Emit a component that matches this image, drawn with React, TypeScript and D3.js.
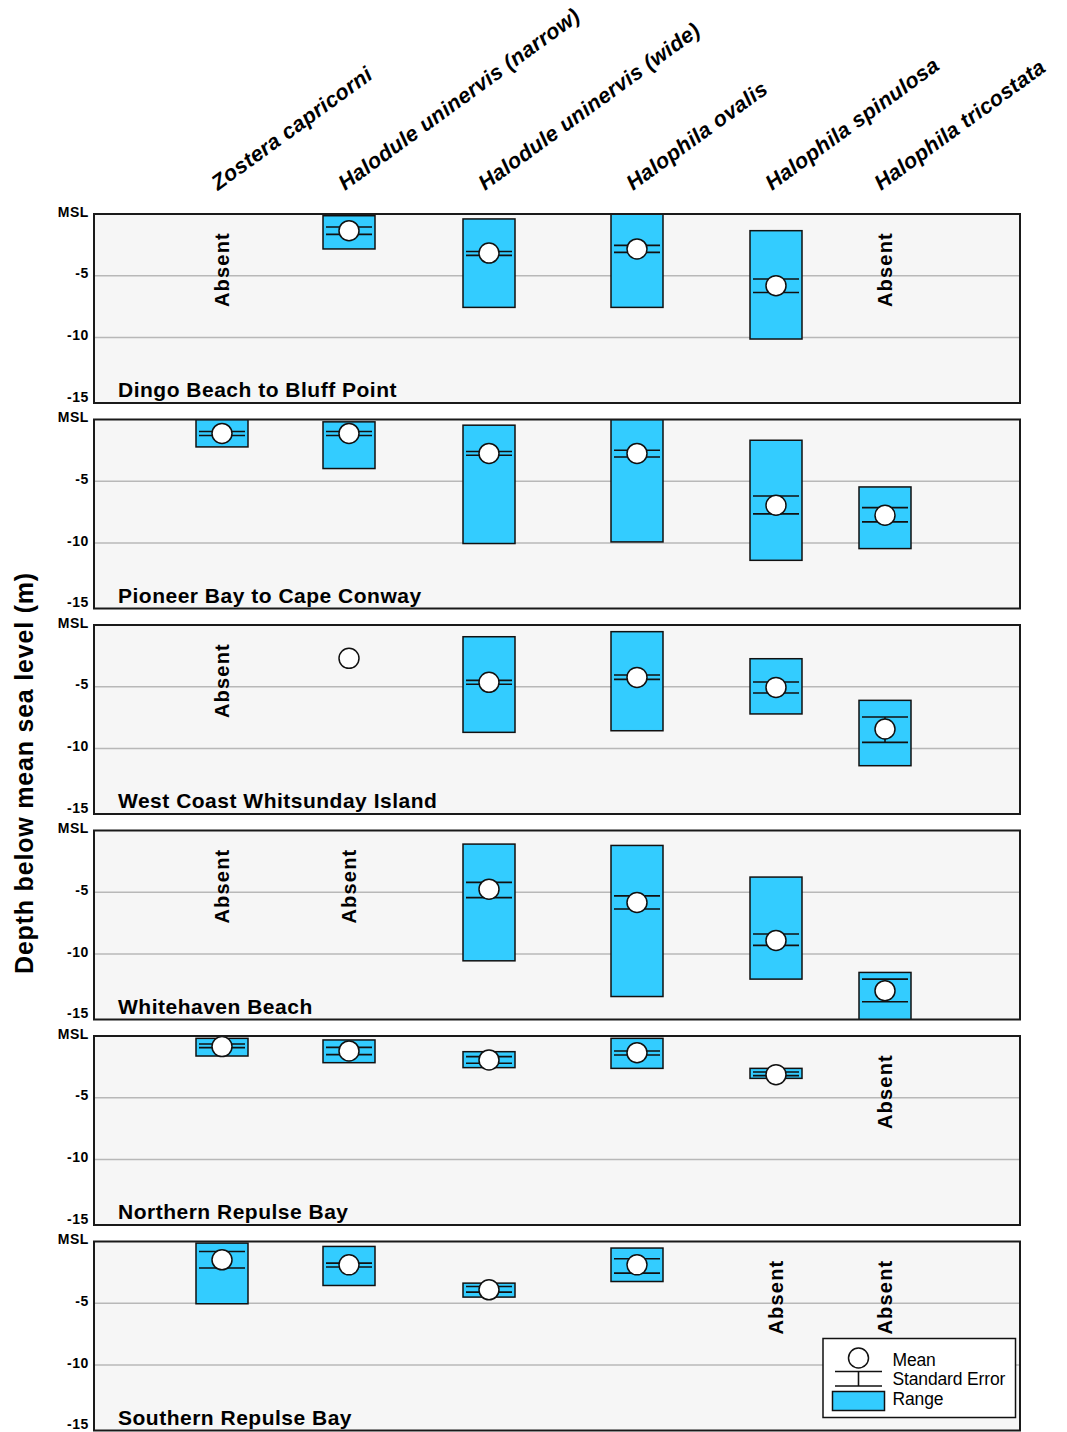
import React from "react";
import * as d3 from "d3";

// Seagrass species (columns) and survey sites (panels)
const species = [
  "Zostera capricorni",
  "Halodule uninervis (narrow)",
  "Halodule uninervis (wide)",
  "Halophila ovalis",
  "Halophila spinulosa",
  "Halophila tricostata",
];

const siteNames = [
  "Dingo Beach to Bluff Point",
  "Pioneer Bay to Cape Conway",
  "West Coast Whitsunday Island",
  "Whitehaven Beach",
  "Northern Repulse Bay",
  "Southern Repulse Bay",
];

// Depth below MSL (m): range = [shallowest, deepest], se = [mean - SE, mean + SE]; null = Absent
type Obs = { range?: [number, number]; mean: number; se?: [number, number] } | null;

const dingoBeach: Obs[] = [
  null,
  { range: [0.14, 2.83], mean: 1.35, se: [1.05, 1.65] },
  { range: [0.4, 7.56], mean: 3.16, se: [3.03, 3.35] },
  { range: [0, 7.56], mean: 2.83, se: [2.54, 3.11] },
  { range: [1.35, 10.12], mean: 5.8, se: [5.26, 6.35] },
  null,
];

const pioneerBay: Obs[] = [
  { range: [0, 2.22], mean: 1.13, se: [0.97, 1.3] },
  { range: [0.19, 3.97], mean: 1.13, se: [0.97, 1.3] },
  { range: [0.46, 10.04], mean: 2.75, se: [2.59, 2.89] },
  { range: [0, 9.91], mean: 2.75, se: [2.49, 3.03] },
  { range: [1.68, 11.4], mean: 6.94, se: [6.19, 7.64] },
  { range: [5.46, 10.45], mean: 7.75, se: [7.13, 8.29] },
];

const westCoastWhitsunday: Obs[] = [
  null,
  { mean: 2.7 },
  { range: [0.95, 8.69], mean: 4.64, se: [4.48, 4.8] },
  { range: [0.54, 8.56], mean: 4.24, se: [4.05, 4.4] },
  { range: [2.73, 7.2], mean: 5.05, se: [4.62, 5.51] },
  { range: [6.1, 11.39], mean: 8.42, se: [7.45, 9.5] },
];

const whitehavenBeach: Obs[] = [
  null,
  null,
  { range: [1.1, 10.55], mean: 4.75, se: [4.2, 5.43] },
  { range: [1.21, 13.44], mean: 5.83, se: [5.29, 6.36] },
  { range: [3.77, 12.03], mean: 8.9, se: [8.38, 9.3] },
  { range: [11.49, 15.6], mean: 12.97, se: [12.03, 13.86] },
];

const northernRepulseBay: Obs[] = [
  { range: [0.19, 1.62], mean: 0.86, se: [0.65, 0.94] },
  { range: [0.32, 2.16], mean: 1.21, se: [0.92, 1.51] },
  { range: [1.27, 2.56], mean: 1.94, se: [1.67, 2.21] },
  { range: [0.19, 2.62], mean: 1.35, se: [1.21, 1.54] },
  { range: [2.62, 3.43], mean: 3.13, se: [2.91, 3.21] },
  null,
];

const southernRepulseBay: Obs[] = [
  { range: [0.13, 5.04], mean: 1.48, se: [0.81, 2.15] },
  { range: [0.4, 3.56], mean: 1.89, se: [1.75, 2.07] },
  { range: [3.37, 4.5], mean: 3.91, se: [3.64, 4.1] },
  { range: [0.53, 3.24], mean: 1.89, se: [1.4, 2.56] },
  null,
  null,
];

const siteData = [
  dingoBeach,
  pioneerBay,
  westCoastWhitsunday,
  whitehavenBeach,
  northernRepulseBay,
  southernRepulseBay,
];

const depthTicks = [0, 5, 10, 15];
const depthTickLabels = ["MSL", "-5", "-10", "-15"];
const gridDepths = [5, 10];
const legendLabels = ["Mean", "Standard Error", "Range"];

// Layout
const W = 1067;
const H = 1432;
const plotLeft = 94;
const plotRight = 1020;
const panelTop0 = 214;
const panelStep = 205.5;
const panelHeight = 189;
const depthMax = 15.3;
const columnCentres = [222, 349, 489, 637, 776, 885];
const boxWidth = 52;
const seWidth = 46;
const meanRadius = 10;
const absentDepth = 4.5;
const blue = "#33ccff";
const font = "'Liberation Sans', Arial, Helvetica, sans-serif";

export default function App() {
  const x = d3.scaleOrdinal<string, number>().domain(species).range(columnCentres);

  return (
    <svg
      width={W}
      height={H}
      style={{ position: "absolute", left: 0, top: 0 }}
      fontFamily={font}
    >
      <rect width={W} height={H} fill="#ffffff" />

      {/* Column headers */}
      {species.map((s) => (
        <text
          key={s}
          transform={`translate(${x(s) - 4},191) rotate(-36)`}
          fontSize={21.5}
          fontWeight="bold"
          fontStyle="italic"
          letterSpacing={0.3}
          fill="#000"
        >
          {s}
        </text>
      ))}

      {/* Shared y-axis title */}
      <text
        transform="translate(24,773) rotate(-90)"
        textAnchor="middle"
        dominantBaseline="central"
        fontSize={25}
        fontWeight="bold"
        letterSpacing={0.8}
      >
        Depth below mean sea level (m)
      </text>

      {siteNames.map((name, i) => {
        const top = panelTop0 + i * panelStep;
        const bottom = top + panelHeight;
        const y = d3.scaleLinear().domain([0, depthMax]).range([top, bottom]);
        const obs = siteData[i];
        const clipId = `panel-clip-${i}`;
        return (
          <g key={name}>
            <defs>
              <clipPath id={clipId}>
                <rect x={plotLeft} y={top} width={plotRight - plotLeft} height={panelHeight} />
              </clipPath>
            </defs>
            <rect x={plotLeft} y={top} width={plotRight - plotLeft} height={panelHeight} fill="#f6f6f6" />
            {gridDepths.map((d) => (
              <line key={d} x1={plotLeft} x2={plotRight} y1={y(d)} y2={y(d)} stroke="#b8b8b8" strokeWidth={1.5} />
            ))}
            {depthTicks.map((d, k) => (
              <text
                key={d}
                x={89}
                y={y(d) - 2.5}
                textAnchor="end"
                dominantBaseline="central"
                fontSize={14}
                fontWeight="bold"
                letterSpacing={0.6}
              >
                {depthTickLabels[k]}
              </text>
            ))}

            <g clipPath={`url(#${clipId})`}>
              {species.map((s, j) => {
                const o = obs[j];
                const cx = x(s);
                if (o === null) {
                  return (
                    <text
                      key={s}
                      transform={`translate(${cx},${y(absentDepth)}) rotate(-90)`}
                      textAnchor="middle"
                      dominantBaseline="central"
                      fontSize={20}
                      fontWeight="bold"
                      letterSpacing={1.2}
                    >
                      Absent
                    </text>
                  );
                }
                return (
                  <g key={s}>
                    {o.range && (
                      <rect
                        x={cx - boxWidth / 2}
                        y={y(o.range[0])}
                        width={boxWidth}
                        height={y(o.range[1]) - y(o.range[0])}
                        fill={blue}
                        stroke="#111"
                        strokeWidth={1.5}
                      />
                    )}
                    {o.se && (
                      <g stroke="#111" strokeWidth={1.6}>
                        <line x1={cx} x2={cx} y1={y(o.se[0])} y2={y(o.se[1])} />
                        <line x1={cx - seWidth / 2} x2={cx + seWidth / 2} y1={y(o.se[0])} y2={y(o.se[0])} />
                        <line x1={cx - seWidth / 2} x2={cx + seWidth / 2} y1={y(o.se[1])} y2={y(o.se[1])} />
                      </g>
                    )}
                    <circle cx={cx} cy={y(o.mean)} r={meanRadius} fill="#fff" stroke="#111" strokeWidth={1.5} />
                  </g>
                );
              })}
            </g>

            <text x={118} y={bottom - 6} fontSize={21} fontWeight="bold" letterSpacing={0.5}>
              {name}
            </text>

            <rect
              x={plotLeft}
              y={top}
              width={plotRight - plotLeft}
              height={panelHeight}
              fill="none"
              stroke="#1a1a1a"
              strokeWidth={2}
            />

            {i === siteNames.length - 1 && (() => {
              const lx = plotRight - 197;
              const ly = bottom - 92;
              const sx = lx + 35.5;
              return (
                <g>
                  <rect x={lx} y={ly} width={192.5} height={79} fill="#fff" stroke="#111" strokeWidth={1.5} />
                  <circle cx={sx} cy={ly + 19.5} r={10} fill="#fff" stroke="#111" strokeWidth={1.5} />
                  <g stroke="#111" strokeWidth={1.6}>
                    <line x1={sx - 23.5} x2={sx + 23.5} y1={ly + 33} y2={ly + 33} />
                    <line x1={sx - 23.5} x2={sx + 23.5} y1={ly + 47.5} y2={ly + 47.5} />
                    <line x1={sx} x2={sx} y1={ly + 33} y2={ly + 47.5} />
                  </g>
                  <rect x={sx - 26} y={ly + 53} width={52} height={19} fill={blue} stroke="#111" strokeWidth={1.5} />
                  {legendLabels.map((t, k) => (
                    <text key={t} x={lx + 69.5} y={ly + 27 + k * 19.8} fontSize={17.5} letterSpacing={-0.15}>
                      {t}
                    </text>
                  ))}
                </g>
              );
            })()}
          </g>
        );
      })}
    </svg>
  );
}
